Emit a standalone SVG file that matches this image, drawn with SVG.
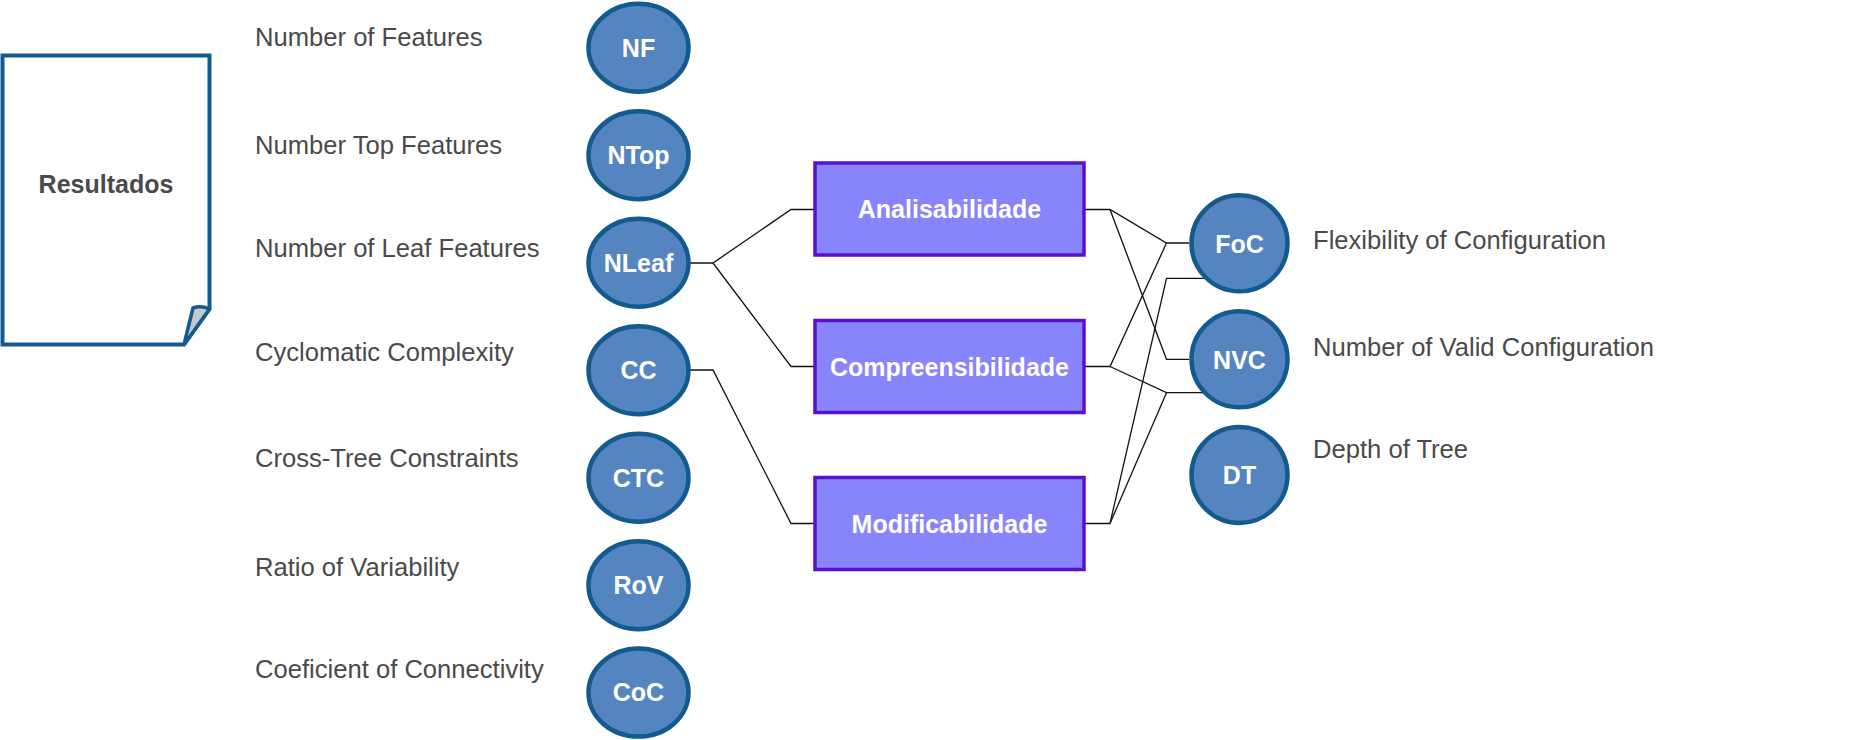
<svg xmlns="http://www.w3.org/2000/svg" width="1852" height="740" viewBox="0 0 1852 740">
<style>
.lbl{font-family:"Liberation Sans",Arial,sans-serif;font-size:25.6px;fill:#4a4a4a}
.ct{font-family:"Liberation Sans",Arial,sans-serif;font-size:25px;font-weight:bold;fill:#ffffff;text-anchor:middle}
.met{fill:#5585c0;stroke:#135a8e;stroke-width:4.5}
.box{fill:#8884fc;stroke:#5a10cc;stroke-width:3.5}
.doc{fill:#ffffff;stroke:#135a8e;stroke-width:4;stroke-linejoin:miter}
.cn{fill:none;stroke:#111;stroke-width:1.3}
</style>
<rect width="1852" height="740" fill="#ffffff"/>
<g id="resultados">
<path class="doc" d="M2.5,55.5 L209.5,55.5 L209.5,309 L184,344.5 L2.5,344.5 Z"/>
<path d="M184,344.5 L193,308 Q201,305 209.5,309 Z" fill="#c5c9ce" stroke="#135a8e" stroke-width="3.5" stroke-linejoin="round"/>
<text x="106" y="193" font-family="'Liberation Sans',Arial,sans-serif" font-size="25" font-weight="bold" fill="#4a4a4a" text-anchor="middle">Resultados</text>
</g>
<g id="labels-left">
<text class="lbl" x="255" y="46">Number of Features</text>
<text class="lbl" x="255" y="154">Number Top Features</text>
<text class="lbl" x="255" y="257">Number of Leaf Features</text>
<text class="lbl" x="255" y="361">Cyclomatic Complexity</text>
<text class="lbl" x="255" y="467">Cross-Tree Constraints</text>
<text class="lbl" x="255" y="576">Ratio of Variability</text>
<text class="lbl" x="255" y="678">Coeficient of Connectivity</text>
</g>
<g id="connectors">
<polyline class="cn" points="690,263 713,263 791,209.5 815,209.5"/>
<polyline class="cn" points="713,263 791,366.5 815,366.5"/>
<polyline class="cn" points="690,370 713,370 791,523.5 815,523.5"/>
<polyline class="cn" points="1084,209.5 1110,209.5 1166.5,243 1189,243"/>
<polyline class="cn" points="1110,209.5 1166.5,359.3 1189,359.3"/>
<polyline class="cn" points="1084,366.5 1110,366.5 1166.5,243"/>
<polyline class="cn" points="1110,366.5 1166.5,392.7 1206,392.7"/>
<polyline class="cn" points="1084,523.5 1110,523.5 1166.5,278.3 1206,278.3"/>
<polyline class="cn" points="1110,523.5 1166.5,392.7"/>
</g>
<g id="NF"><ellipse class="met" cx="638.5" cy="47.8" rx="50" ry="44"/><text class="ct" x="638.5" y="56.5">NF</text></g>
<g id="NTop"><ellipse class="met" cx="638.5" cy="155.3" rx="50" ry="44"/><text class="ct" x="638.5" y="164">NTop</text></g>
<g id="NLeaf"><ellipse class="met" cx="638.5" cy="262.8" rx="50" ry="44"/><text class="ct" x="638.5" y="271.5">NLeaf</text></g>
<g id="CC"><ellipse class="met" cx="638.5" cy="370.3" rx="50" ry="44"/><text class="ct" x="638.5" y="379">CC</text></g>
<g id="CTC"><ellipse class="met" cx="638.5" cy="477.8" rx="50" ry="44"/><text class="ct" x="638.5" y="486.5">CTC</text></g>
<g id="RoV"><ellipse class="met" cx="638.5" cy="585.3" rx="50" ry="44"/><text class="ct" x="638.5" y="594">RoV</text></g>
<g id="CoC"><ellipse class="met" cx="638.5" cy="692.6" rx="50" ry="44"/><text class="ct" x="638.5" y="701.3">CoC</text></g>
<g id="Analisabilidade"><rect class="box" x="815" y="163" width="269" height="92"/><text class="ct" x="949.5" y="218">Analisabilidade</text></g>
<g id="Compreensibilidade"><rect class="box" x="815" y="320.5" width="269" height="92"/><text class="ct" x="949.5" y="375.5">Compreensibilidade</text></g>
<g id="Modificabilidade"><rect class="box" x="815" y="477.5" width="269" height="92"/><text class="ct" x="949.5" y="532.5">Modificabilidade</text></g>
<g id="FoC"><circle class="met" cx="1239.5" cy="243.3" r="48"/><text class="ct" x="1239.5" y="252.5">FoC</text></g>
<g id="NVC"><circle class="met" cx="1239.5" cy="359.3" r="48"/><text class="ct" x="1239.5" y="368.5">NVC</text></g>
<g id="DT"><circle class="met" cx="1239.5" cy="475" r="48"/><text class="ct" x="1239.5" y="484.2">DT</text></g>
<g id="labels-right">
<text class="lbl" x="1313" y="249">Flexibility of Configuration</text>
<text class="lbl" x="1313" y="356">Number of Valid Configuration</text>
<text class="lbl" x="1313" y="458">Depth of Tree</text>
</g>
</svg>
